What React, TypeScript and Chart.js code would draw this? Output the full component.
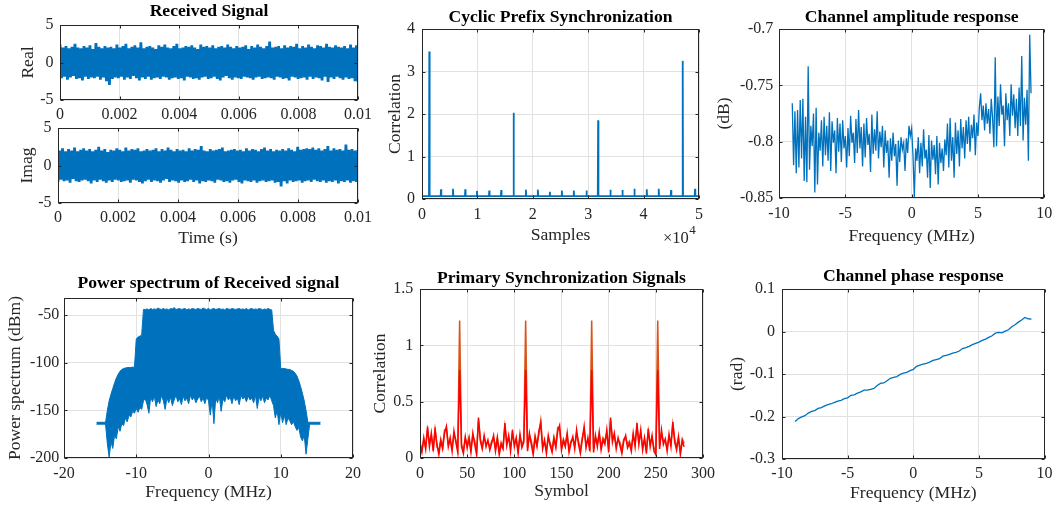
import React, { useEffect, useRef } from 'react';
import { Chart, registerables } from 'chart.js';

Chart.register(...registerables);

const FIG_W = 1058;
const FIG_H = 510;
const FONT = '"Liberation Serif", "Times New Roman", Times, serif';
const AXIS_COLOR = '#262626';
const GRID_COLOR = '#e2e2e2';
const BLUE = '#0072BD';
const ORANGE = '#D95319';
const RED = '#FF0000';
const TICK_SIZE = 16;
const LABEL_SIZE = 17.6;

// ---------------- Received signal (time domain) ----------------
const RX_T_END = 0.01;
const RX_REAL = [
  2.4,-2.1,2.0,-1.9,2.2,-2.3,1.9,-2.0,2.1,-1.8,2.5,-2.2,2.0,-2.1,1.9,-2.4,2.2,-1.9,2.0,-2.2,
  2.3,-2.0,1.8,-2.1,2.6,-1.9,2.1,-2.3,1.9,-2.0,2.2,-2.5,2.0,-3.0,2.1,-2.2,1.9,-2.0,2.4,-2.1,
  2.0,-1.9,2.2,-2.3,2.5,-2.0,1.9,-2.2,2.1,-1.8,2.3,-2.1,2.0,-2.4,2.7,-2.0,1.9,-2.2,2.1,-1.9,
  2.2,-2.3,2.0,-2.1,1.8,-2.0,2.3,-2.2,2.1,-1.9,2.4,-2.0,2.0,-2.3,1.9,-2.1,2.2,-2.0,2.5,-2.2,
  1.9,-2.1,2.0,-2.4,2.2,-1.9,2.1,-2.0,2.3,-2.2,2.0,-2.1,1.8,-2.3,2.4,-2.0,2.1,-1.9,2.2,-2.2,
  2.0,-2.1,2.3,-1.9,1.9,-2.2,2.1,-2.4,2.2,-2.0,2.0,-1.8,2.4,-2.1,2.1,-2.3,1.9,-2.0,2.2,-2.1,
  2.0,-2.2,2.1,-1.9,2.3,-2.0,1.8,-2.1,2.2,-2.3,2.0,-2.0,2.4,-1.9,2.1,-2.2,1.9,-2.1,2.2,-2.0,
  2.8,-2.1,2.0,-2.3,2.1,-1.9,2.2,-2.0,1.9,-2.2,2.3,-2.1,2.0,-2.4,2.2,-1.9,2.1,-2.0,2.5,-2.2,
  1.9,-2.1,2.2,-2.0,2.0,-2.3,2.4,-1.9,2.1,-2.2,1.9,-2.0,2.3,-2.1,2.2,-2.4,2.0,-1.9,2.5,-2.6,
  2.1,-2.0,2.0,-2.2,2.3,-1.9,2.1,-2.1,2.0,-2.3,2.2,-2.0,1.9,-2.2,2.4,-2.1,2.0,-2.5,2.3,-2.6,
];
const RX_IMAG = [
  -2.2,2.0,-1.9,2.3,-2.1,1.9,-2.0,2.2,-2.3,2.0,-1.8,2.4,-2.1,1.9,-2.2,2.1,-2.0,2.3,-1.9,2.0,
  -2.1,2.2,-2.4,1.9,-2.0,2.1,-2.2,2.5,-1.9,2.0,-2.1,2.2,-2.3,1.8,-2.0,2.1,-2.2,2.0,-1.9,2.3,
  -2.0,2.1,-2.2,1.9,-2.1,2.4,-2.0,2.0,-2.3,2.2,-1.9,2.1,-2.0,2.3,-2.2,1.9,-2.4,2.0,-2.1,2.2,
  -1.9,2.0,-2.2,2.1,-2.0,2.3,-2.1,1.9,-2.3,2.2,-2.0,2.0,-1.8,2.4,-2.2,2.1,-2.0,1.9,-2.1,2.2,
  -2.3,2.0,-2.0,2.1,-2.2,1.9,-2.1,2.3,-1.9,2.0,-2.2,2.2,-2.0,2.1,-2.4,2.6,-2.1,2.0,-2.2,1.9,
  -2.0,2.2,-2.1,2.0,-2.3,2.1,-1.9,2.2,-2.0,2.4,-2.2,1.9,-2.1,2.0,-2.3,2.1,-2.0,2.2,-1.9,2.0,
  -2.2,2.1,-2.4,1.9,-2.0,2.3,-2.1,2.0,-2.2,2.2,-2.0,2.1,-2.3,1.9,-2.1,2.2,-2.0,2.4,-2.2,2.0,
  -2.1,2.2,-2.0,1.9,-2.3,2.1,-2.2,2.0,-2.8,2.2,-2.1,2.0,-2.4,2.3,-2.0,2.1,-2.2,1.9,-2.1,2.5,
  -2.0,2.1,-2.3,2.2,-2.1,2.3,-2.0,2.2,-2.2,2.4,-1.9,2.1,-2.1,2.3,-2.2,2.0,-2.0,2.2,-2.3,2.6,
  -2.1,2.0,-2.2,2.3,-2.0,2.1,-2.4,2.2,-2.1,2.0,-2.2,2.8,-2.0,2.1,-2.3,2.2,-2.1,2.0,-2.2,2.1,
];
const TIME_TICKS = [0, 0.002, 0.004, 0.006, 0.008, 0.01];
const RX_Y_TICKS = [-5, 0, 5];

// ---------------- Cyclic prefix synchronization ----------------
const CP_FLOOR = 0.07;
const CP_PEAK_SAMPLES = [1320, 3430, 5590, 7810, 9920, 12140, 14300, 16530, 18750, 20910, 23080, 25240, 27400, 29690, 31790, 34010, 36180, 38340, 40570, 42730, 44950, 47060, 49280];
const CP_PEAK_VALUES = [3.47, 0.23, 0.24, 0.23, 0.19, 0.20, 0.21, 2.03, 0.22, 0.22, 0.17, 0.20, 0.20, 0.20, 1.85, 0.22, 0.21, 0.24, 0.23, 0.24, 0.21, 3.25, 0.24];
const CP_X_END = 50000;
const CP_X_TICKS = [0, 10000, 20000, 30000, 40000, 50000];
const CP_Y_TICKS = [0, 1, 2, 3, 4];

// ---------------- Channel amplitude response ----------------
const AMP_F0 = -9;
const AMP_DF = 0.1;
const AMP_DB = [
  -0.766,-0.821,-0.773,-0.828,-0.772,-0.823,-0.763,-0.815,-0.762,-0.835,
  -0.778,-0.836,-0.733,-0.825,-0.786,-0.804,-0.775,-0.845,-0.770,-0.838,
  -0.792,-0.808,-0.781,-0.822,-0.778,-0.812,-0.786,-0.817,-0.774,-0.826,
  -0.782,-0.801,-0.790,-0.828,-0.779,-0.809,-0.784,-0.818,-0.781,-0.806,
  -0.795,-0.823,-0.788,-0.813,-0.777,-0.801,-0.792,-0.819,-0.780,-0.810,
  -0.772,-0.806,-0.787,-0.822,-0.784,-0.814,-0.779,-0.803,-0.793,-0.827,
  -0.776,-0.811,-0.789,-0.808,-0.773,-0.815,-0.791,-0.805,-0.786,-0.823,
  -0.790,-0.810,-0.799,-0.832,-0.797,-0.817,-0.792,-0.813,-0.802,-0.839,
  -0.799,-0.818,-0.796,-0.807,-0.801,-0.826,-0.797,-0.810,-0.786,-0.795,
  -0.788,-0.812,-0.849,-0.806,-0.817,-0.796,-0.828,-0.801,-0.822,-0.789,
  -0.815,-0.807,-0.832,-0.794,-0.841,-0.799,-0.816,-0.803,-0.829,-0.795,
  -0.838,-0.801,-0.819,-0.806,-0.826,-0.798,-0.812,-0.784,-0.823,-0.779,
  -0.817,-0.796,-0.832,-0.783,-0.811,-0.790,-0.822,-0.780,-0.806,-0.787,
  -0.815,-0.781,-0.802,-0.778,-0.809,-0.785,-0.797,-0.776,-0.812,-0.783,
  -0.795,-0.770,-0.757,-0.781,-0.768,-0.790,-0.766,-0.784,-0.771,-0.793,
  -0.762,-0.779,-0.805,-0.725,-0.804,-0.760,-0.786,-0.749,-0.776,-0.768,
  -0.804,-0.757,-0.781,-0.766,-0.795,-0.749,-0.777,-0.758,-0.788,-0.762,
  -0.795,-0.752,-0.786,-0.724,-0.799,-0.761,-0.785,-0.754,-0.817,-0.705,
  -0.757,
];
const FREQ10_TICKS = [-10, -5, 0, 5, 10];
const AMP_Y_TICKS = [-0.85, -0.8, -0.75, -0.7];

// ---------------- Power spectrum ----------------
const PS_F0 = -15.5;
const PS_DF = 0.25;
const PS_UPPER = [
  -162.5,-162.5,-162.5,-162.5,-162.5,-162.5,-150,-140,-133,-127,
  -121,-116,-112,-109,-107,-106,-105.5,-105,-105,-105,
  -104.5,-105,-75,-73,-72,-71,-44,
  -44,-43.5,-44.5,-43,-44,-43.5,-44,-42.5,-43.5,-44,
  -43,-44,-43.5,-44.5,-43,-43.5,-42,-44,-43.5,-43,
  -44,-43.5,-43,-44.5,-43.5,-44,-43,-43.5,-44,-43,
  -43.5,-44,-42.5,-43.5,-44,-43,-44.5,-43.5,-43,-44,
  -43.5,-43,-44,-43.5,-44.5,-43,-43.5,-44,-43,-43.5,
  -44,-43.5,-43,-44,-43.5,-44,-43,-44.5,-43.5,-43,
  -44,-43.5,-44,-43,-43.5,-44.5,-43.5,-44,-43,-44,-44.5,
  -66,-70,-72,-75,-106,-106,-106,-106.5,-107,-107,
  -108,-109,-111,-114,-119,-125,-132,-140,-150,-162.5,
  -162.5,-162.5,-162.5,-162.5,-162.5,-162.5,-162.5,
];
const PS_LOWER = [
  -164.5,-164.5,-164.5,-164.5,-164.5,-164.5,-185,-199,-183,-190,
  -176,-180,-167,-172,-164,-166,-158,-162,-155,-157,
  -151,-153,-148,-152,-147,-149,-140,
  -138,-144,-153,-136,-141,-135,-146,-139,-143,-134,
  -140,-149,-137,-142,-136,-145,-139,-134,-141,-138,
  -144,-135,-140,-137,-143,-134,-139,-136,-142,-138,
  -135,-141,-137,-143,-136,-140,-155,-139,-164,-137,
  -142,-135,-151,-138,-141,-134,-139,-136,-143,-135,
  -140,-137,-144,-134,-138,-136,-141,-135,-139,-137,
  -142,-134,-148,-136,-140,-135,-142,-137,-139,-134,-140,
  -145,-158,-150,-165,-152,-163,-155,-165,-158,-161,
  -165,-162,-167,-171,-168,-178,-182,-176,-196,-180,
  -164.5,-164.5,-164.5,-164.5,-164.5,-164.5,-164.5,
];
const FREQ20_TICKS = [-20, -10, 0, 10, 20];
const PS_Y_MIN = -200;
const PS_Y_MAX = -32;
const PS_Y_TICKS = [-200, -150, -100, -50];

// ---------------- Primary synchronization signals ----------------
const PSS_SYMBOL_STEP = 2;
const PSS_RED = [
  0.12,0.05,0.18,0.08,0.28,0.10,0.22,0.06,0.25,0.12,
  0.03,0.15,0.08,0.22,0.28,0.10,0.18,0.06,0.24,0.14,
  0.05,0.78,0.10,0.04,0.19,0.09,0.17,0.05,0.22,0.12,
  0.03,0.36,0.15,0.08,0.20,0.10,0.16,0.07,0.13,0.20,
  0.06,0.17,0.03,0.12,0.08,0.31,0.11,0.20,0.06,0.25,
  0.10,0.18,0.04,0.21,0.09,0.14,0.78,0.06,0.22,0.12,
  0.03,0.18,0.10,0.24,0.31,0.08,0.16,0.04,0.20,0.11,
  0.05,0.17,0.09,0.24,0.29,0.07,0.15,0.10,0.22,0.05,
  0.13,0.19,0.08,0.25,0.12,0.04,0.16,0.28,0.09,0.18,
  0.06,0.78,0.05,0.20,0.10,0.23,0.07,0.16,0.12,0.25,
  0.05,0.36,0.14,0.22,0.08,0.18,0.11,0.04,0.15,0.20,
  0.09,0.13,0.06,0.22,0.10,0.31,0.12,0.25,0.07,0.18,
  0.04,0.26,0.10,0.20,0.06,0.03,0.78,0.08,0.25,0.12,
  0.17,0.06,0.21,0.10,0.32,0.14,0.07,0.19,0.03,0.15,
  0.10,
];
const PSS_ORANGE = [
  0.14,0.07,0.16,0.10,0.25,0.13,0.20,0.09,0.27,0.10,
  0.06,0.17,0.10,0.25,0.26,0.12,0.15,0.09,0.21,0.16,
  0.08,1.22,0.12,0.07,0.17,0.12,0.19,0.08,0.20,0.15,
  0.06,0.33,0.17,0.10,0.18,0.13,0.14,0.10,0.15,0.18,
  0.09,0.19,0.06,0.14,0.10,0.28,0.14,0.18,0.09,0.22,
  0.13,0.16,0.07,0.19,0.12,0.16,1.22,0.09,0.20,0.15,
  0.06,0.20,0.12,0.21,0.33,0.11,0.14,0.07,0.18,0.13,
  0.08,0.19,0.11,0.27,0.26,0.10,0.17,0.12,0.20,0.08,
  0.15,0.17,0.11,0.22,0.15,0.07,0.18,0.25,0.12,0.16,
  0.09,1.22,0.08,0.18,0.13,0.21,0.10,0.18,0.15,0.22,
  0.08,0.33,0.17,0.20,0.11,0.16,0.14,0.07,0.17,0.18,
  0.12,0.15,0.09,0.20,0.13,0.28,0.15,0.22,0.10,0.16,
  0.07,0.24,0.13,0.18,0.09,0.06,1.22,0.11,0.22,0.15,
  0.15,0.09,0.19,0.13,0.30,0.17,0.10,0.17,0.06,0.17,
  0.13,
];
const SYMBOL_TICKS = [0, 50, 100, 150, 200, 250, 300];
const PSS_Y_TICKS = [0, 0.5, 1, 1.5];

// ---------------- Channel phase response ----------------
const PH_F0 = -9;
const PH_DF = 0.25;
const PH_RAD = [
  -0.212,-0.205,-0.201,-0.198,-0.192,-0.188,-0.186,-0.181,-0.179,-0.175,
  -0.172,-0.170,-0.167,-0.164,-0.162,-0.158,-0.156,-0.150,-0.149,-0.145,
  -0.142,-0.138,-0.138,-0.136,-0.134,-0.127,-0.122,-0.121,-0.116,-0.110,
  -0.108,-0.106,-0.101,-0.098,-0.096,-0.092,-0.089,-0.082,-0.079,-0.077,
  -0.075,-0.072,-0.068,-0.066,-0.064,-0.058,-0.056,-0.054,-0.051,-0.049,
  -0.046,-0.040,-0.038,-0.035,-0.031,-0.028,-0.025,-0.021,-0.018,-0.014,
  -0.010,-0.004,-0.002,-0.003,0.001,0.004,0.011,0.016,0.022,0.027,
  0.033,0.030,0.029,
];
const PH_Y_TICKS = [-0.3, -0.2, -0.1, 0, 0.1];

// ---------------- helpers ----------------
const fmt = (v: number) => String(Number(Number(v).toFixed(6)));
const onGrid = (vals: number[], x0: number, dx: number) => vals.map((y, i) => ({ x: x0 + i * dx, y }));

function cpSeries() {
  const pts: { x: number; y: number }[] = [{ x: 0, y: CP_FLOOR }];
  CP_PEAK_SAMPLES.forEach((s, i) => {
    pts.push({ x: s - 60, y: CP_FLOOR }, { x: s, y: CP_PEAK_VALUES[i] }, { x: s + 60, y: CP_FLOOR });
  });
  pts.push({ x: CP_X_END, y: CP_FLOOR });
  return pts;
}

const axesPlugin = {
  id: 'matlabAxes',
  afterDatasetsDraw(chart: any, _args: any, opts: any) {
    const { ctx, chartArea: a, scales } = chart;
    const l = Math.round(a.left) + 0.5;
    const r = Math.round(a.right) - 0.5;
    const t = Math.round(a.top) + 0.5;
    const b = Math.round(a.bottom) - 0.5;
    ctx.save();
    ctx.strokeStyle = AXIS_COLOR;
    ctx.lineWidth = 1;
    ctx.strokeRect(l, t, r - l, b - t);
    const len = 3;
    ctx.beginPath();
    scales.x.ticks.forEach((tk: any) => {
      const px = Math.round(scales.x.getPixelForValue(tk.value)) + 0.5;
      ctx.moveTo(px, b); ctx.lineTo(px, b - len);
      ctx.moveTo(px, t); ctx.lineTo(px, t + len);
    });
    scales.y.ticks.forEach((tk: any) => {
      const py = Math.round(scales.y.getPixelForValue(tk.value)) + 0.5;
      ctx.moveTo(l, py); ctx.lineTo(l + len, py);
      ctx.moveTo(r, py); ctx.lineTo(r - len, py);
    });
    ctx.stroke();
    if (opts && opts.title) {
      ctx.fillStyle = '#000';
      ctx.font = `bold ${LABEL_SIZE}px ${FONT}`;
      ctx.textAlign = 'center';
      ctx.textBaseline = 'alphabetic';
      ctx.fillText(opts.title, (a.left + a.right) / 2, opts.titleBase);
    }
    if (opts && opts.exponent) {
      const e = opts.exponent;
      ctx.fillStyle = AXIS_COLOR;
      ctx.textAlign = 'left';
      ctx.textBaseline = 'alphabetic';
      ctx.font = `${TICK_SIZE + 0.5}px ${FONT}`;
      ctx.fillText(e.base, e.x, e.y);
      const w = ctx.measureText(e.base).width;
      ctx.font = `${TICK_SIZE - 3}px ${FONT}`;
      ctx.fillText(e.power, e.x + w + 0.5, e.y - 8.5);
    }
    ctx.restore();
  },
};

type PanelSpec = {
  L: number; R: number; T: number; B: number;
  yLabel: string; yLabelX: number; yTickPad: number;
  xLabel?: string; xLabelY?: number; xTickPad: number;
  xMin: number; xMax: number; xTicks: number[]; xFmt?: (v: number) => string;
  yMin: number; yMax: number; yTicks: number[];
  title?: string; titleBase?: number;
  exponent?: any;
  datasets: any[];
};

function makeConfig(p: PanelSpec): any {
  const half = (LABEL_SIZE * 1.2) / 2;
  const padLeft = p.yLabelX - half;
  const yW = p.L - padLeft;
  const xH = p.xLabel ? (p.xLabelY as number) + half - p.B : 28;
  const tickFont = { family: FONT, size: TICK_SIZE };
  const labelFont = { family: FONT, size: LABEL_SIZE };
  return {
    type: 'line',
    data: { datasets: p.datasets },
    options: {
      animation: false,
      responsive: false,
      events: [],
      layout: { padding: { left: padLeft, right: FIG_W - p.R, top: p.T, bottom: FIG_H - p.B - xH } },
      elements: { point: { radius: 0 }, line: { tension: 0 } },
      plugins: {
        legend: { display: false },
        tooltip: { enabled: false },
        title: { display: false },
        matlabAxes: { title: p.title, titleBase: p.titleBase, exponent: p.exponent },
      },
      scales: {
        x: {
          type: 'linear',
          min: p.xMin,
          max: p.xMax,
          afterBuildTicks: (s: any) => { s.ticks = p.xTicks.map((v) => ({ value: v })); },
          afterFit: (s: any) => { s.height = xH; },
          grid: { color: GRID_COLOR, lineWidth: 1, drawTicks: false },
          border: { display: false },
          ticks: {
            padding: p.xTickPad, maxRotation: 0, minRotation: 0, autoSkip: false,
            color: AXIS_COLOR, font: tickFont,
            callback: (v: any) => (p.xFmt ? p.xFmt(Number(v)) : fmt(Number(v))),
          },
          title: { display: !!p.xLabel, text: p.xLabel || '', padding: 0, color: AXIS_COLOR, font: labelFont },
        },
        y: {
          type: 'linear',
          min: p.yMin,
          max: p.yMax,
          afterBuildTicks: (s: any) => { s.ticks = p.yTicks.map((v) => ({ value: v })); },
          afterFit: (s: any) => { s.width = yW; },
          grid: { color: GRID_COLOR, lineWidth: 1, drawTicks: false },
          border: { display: false },
          ticks: {
            padding: p.yTickPad, autoSkip: false, color: AXIS_COLOR, font: tickFont,
            callback: (v: any) => fmt(Number(v)),
          },
          title: { display: true, text: p.yLabel, padding: 0, color: AXIS_COLOR, font: labelFont },
        },
      },
    },
    plugins: [axesPlugin],
  };
}

const line = (data: any[], color: string, width = 1, extra: any = {}) => ({
  data, borderColor: color, backgroundColor: color, borderWidth: width, pointRadius: 0, fill: false, ...extra,
});

function buildPanels(): PanelSpec[] {
  const dt = RX_T_END / (RX_REAL.length - 1);
  return [
    {
      L: 60, R: 358, T: 25, B: 100, yLabel: 'Real', yLabelX: 28.5, yTickPad: 6.5, xTickPad: 5.4,
      xMin: 0, xMax: RX_T_END, xTicks: TIME_TICKS, yMin: -5, yMax: 5, yTicks: RX_Y_TICKS,
      title: 'Received Signal', titleBase: 16,
      datasets: [line(onGrid(RX_REAL, 0, dt), BLUE, 2.8, { borderJoinStyle: 'bevel' })],
    },
    {
      L: 58, R: 358, T: 128, B: 203, yLabel: 'Imag', yLabelX: 27.5, yTickPad: 6.5,
      xLabel: 'Time (s)', xLabelY: 238, xTickPad: 5.6,
      xMin: 0, xMax: RX_T_END, xTicks: TIME_TICKS, yMin: -5, yMax: 5, yTicks: RX_Y_TICKS,
      datasets: [line(onGrid(RX_IMAG, 0, dt), BLUE, 2.8, { borderJoinStyle: 'bevel' })],
    },
    {
      L: 422, R: 699, T: 29, B: 199, yLabel: 'Correlation', yLabelX: 395, yTickPad: 7,
      xLabel: 'Samples', xLabelY: 235.5, xTickPad: 6.2,
      xMin: 0, xMax: CP_X_END, xTicks: CP_X_TICKS, xFmt: (v) => fmt(v / 10000),
      yMin: 0, yMax: 4, yTicks: CP_Y_TICKS,
      title: 'Cyclic Prefix Synchronization', titleBase: 22,
      exponent: { base: '\u00d710', power: '4', x: 663, y: 242.5 },
      datasets: [line(cpSeries(), BLUE, 1.8)],
    },
    {
      L: 779, R: 1046, T: 29, B: 198, yLabel: '(dB)', yLabelX: 724, yTickPad: 5.7,
      xLabel: 'Frequency (MHz)', xLabelY: 236, xTickPad: 5.7,
      xMin: -10, xMax: 10, xTicks: FREQ10_TICKS, yMin: -0.85, yMax: -0.7, yTicks: AMP_Y_TICKS,
      title: 'Channel amplitude response', titleBase: 22,
      datasets: [line(onGrid(AMP_DB, AMP_F0, AMP_DF), BLUE, 1.3)],
    },
    {
      L: 64, R: 353, T: 298, B: 458, yLabel: 'Power spectrum (dBm)', yLabelX: 15, yTickPad: 4.7,
      xLabel: 'Frequency (MHz)', xLabelY: 492.5, xTickPad: 5.7,
      xMin: -20, xMax: 20, xTicks: FREQ20_TICKS, yMin: PS_Y_MIN, yMax: PS_Y_MAX, yTicks: PS_Y_TICKS,
      title: 'Power spectrum of Received signal', titleBase: 287.5,
      datasets: [
        line(onGrid(PS_UPPER, PS_F0, PS_DF), BLUE, 1, { fill: '+1' }),
        line(onGrid(PS_LOWER, PS_F0, PS_DF), BLUE, 1),
      ],
    },
    {
      L: 420, R: 703, T: 289, B: 458, yLabel: 'Correlation', yLabelX: 380, yTickPad: 6.7,
      xLabel: 'Symbol', xLabelY: 491.5, xTickPad: 5.7,
      xMin: 0, xMax: 300, xTicks: SYMBOL_TICKS, yMin: 0, yMax: 1.5, yTicks: PSS_Y_TICKS,
      title: 'Primary Synchronization Signals', titleBase: 282.5,
      datasets: [
        line(onGrid(PSS_RED, 0, PSS_SYMBOL_STEP), RED, 1.5),
        line(onGrid(PSS_ORANGE, 0, PSS_SYMBOL_STEP), ORANGE, 1.5),
      ],
    },
    {
      L: 782, R: 1046, T: 289, B: 459, yLabel: '(rad)', yLabelX: 737.5, yTickPad: 7,
      xLabel: 'Frequency (MHz)', xLabelY: 493, xTickPad: 5.4,
      xMin: -10, xMax: 10, xTicks: FREQ10_TICKS, yMin: -0.3, yMax: 0.1, yTicks: PH_Y_TICKS,
      title: 'Channel phase response', titleBase: 281,
      datasets: [line(onGrid(PH_RAD, PH_F0, PH_DF), BLUE, 1.3)],
    },
  ];
}

function PanelCanvas({ spec }: { spec: PanelSpec }) {
  const ref = useRef<HTMLCanvasElement | null>(null);
  useEffect(() => {
    if (!ref.current) return;
    const chart = new Chart(ref.current, makeConfig(spec));
    return () => chart.destroy();
  }, [spec]);
  return (
    <canvas
      ref={ref}
      width={FIG_W}
      height={FIG_H}
      style={{ position: 'absolute', left: 0, top: 0, width: FIG_W, height: FIG_H }}
    />
  );
}

const PANELS = buildPanels();

export default function App() {
  return (
    <div style={{ position: 'absolute', left: 0, top: 0, width: FIG_W, height: FIG_H, background: '#ffffff', overflow: 'hidden' }}>
      {PANELS.map((p, i) => (
        <PanelCanvas key={i} spec={p} />
      ))}
    </div>
  );
}
